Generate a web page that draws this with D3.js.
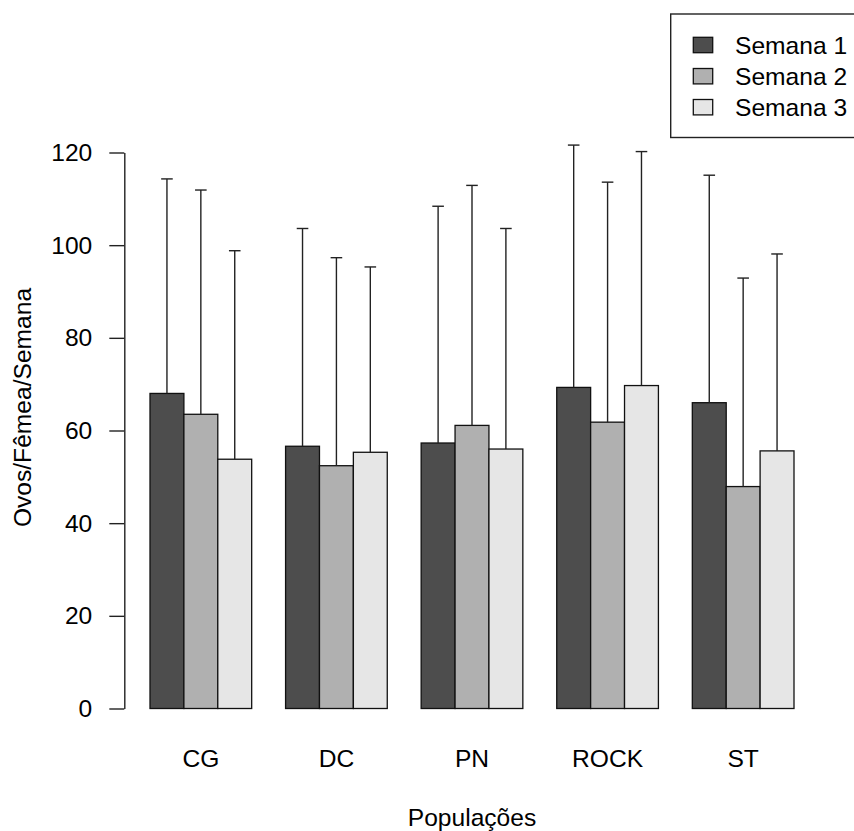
<!DOCTYPE html>
<html>
<head>
<meta charset="utf-8">
<script src="https://cdn.jsdelivr.net/npm/d3@7"></script>
<style>
  html, body { margin: 0; padding: 0; background: #fff; }
  svg { display: block; font-family: "Liberation Sans", Arial, sans-serif; }
</style>
</head>
<body>
<svg id="chart" width="854" height="831"></svg>
<script>
// Populations on the x axis, one bar per week
const categories = ["CG", "DC", "PN", "ROCK", "ST"];
const seriesNames = ["Semana 1", "Semana 2", "Semana 3"];

// Mean eggs per female per week
const semana1 = [68.0, 56.6, 57.3, 69.3, 66.0];
const semana2 = [63.5, 52.4, 61.1, 61.8, 47.9];
const semana3 = [53.8, 55.3, 56.0, 69.7, 55.6];

// Standard deviations (upper error bars)
const sd1 = [46.3, 47.0, 51.1, 52.3, 49.1];
const sd2 = [48.4, 44.9, 51.8, 51.8, 45.0];
const sd3 = [45.0, 40.0, 47.6, 50.5, 42.5];

const yTicks = [0, 20, 40, 60, 80, 100, 120];
const barColors = ["#4d4d4d", "#b0b0b0", "#e6e6e6"];

const means = [semana1, semana2, semana3];
const sds = [sd1, sd2, sd3];

const svg = d3.select("#chart");
const fontSize = 24.6;

const y = d3.scaleLinear().domain([0, 120]).range([708.5, 152.5]);

// groups of three bars, one bar-width of space before each group
const xGroup = d3.scaleBand()
  .domain(categories)
  .range([150, 794])
  .paddingInner(0.25)
  .paddingOuter(0)
  .align(1);

const xBar = d3.scaleBand()
  .domain(d3.range(seriesNames.length))
  .range([0, xGroup.bandwidth()]);

const rows = [];
categories.forEach((c, i) => {
  seriesNames.forEach((s, j) => {
    rows.push({ cat: c, series: j, mean: means[j][i], sd: sds[j][i] });
  });
});

// bars
svg.append("g")
  .selectAll("rect")
  .data(rows)
  .join("rect")
  .attr("x", d => xGroup(d.cat) + xBar(d.series))
  .attr("y", d => y(d.mean))
  .attr("width", xBar.bandwidth())
  .attr("height", d => y(0) - y(d.mean))
  .attr("fill", d => barColors[d.series])
  .attr("stroke", "#111")
  .attr("stroke-width", 1.3);

// upper error bars
const errG = svg.append("g").attr("stroke", "#222").attr("stroke-width", 1.4).attr("fill", "none");
rows.forEach(d => {
  const cx = xGroup(d.cat) + xBar(d.series) + xBar.bandwidth() / 2;
  errG.append("line")
    .attr("x1", cx).attr("x2", cx)
    .attr("y1", y(d.mean)).attr("y2", y(d.mean + d.sd));
  errG.append("line")
    .attr("x1", cx - 5.8).attr("x2", cx + 5.8)
    .attr("y1", y(d.mean + d.sd)).attr("y2", y(d.mean + d.sd));
});

// y axis
const yAxis = d3.axisLeft(y)
  .tickValues(yTicks)
  .tickSize(15)
  .tickPadding(17)
  .tickSizeOuter(0);

const gy = svg.append("g")
  .attr("transform", "translate(124.3,0)")
  .call(yAxis);
gy.select(".domain").attr("stroke", "#222").attr("stroke-width", 1.4);
gy.selectAll(".tick line").attr("stroke", "#222").attr("stroke-width", 1.4);
gy.selectAll(".tick text")
  .attr("font-size", fontSize)
  .attr("font-family", "Liberation Sans, Arial, sans-serif")
  .attr("fill", "#000");

// category labels
svg.append("g")
  .selectAll("text")
  .data(categories)
  .join("text")
  .attr("x", d => xGroup(d) + xGroup.bandwidth() / 2)
  .attr("y", 767)
  .attr("text-anchor", "middle")
  .attr("font-size", fontSize)
  .attr("fill", "#000")
  .text(d => d);

// axis titles
svg.append("text")
  .attr("x", 472)
  .attr("y", 826)
  .attr("text-anchor", "middle")
  .attr("font-size", fontSize)
  .attr("fill", "#000")
  .text("Populações");

svg.append("text")
  .attr("transform", "translate(31,407.5) rotate(-90)")
  .attr("text-anchor", "middle")
  .attr("font-size", fontSize)
  .attr("fill", "#000")
  .text("Ovos/Fêmea/Semana");

// legend
const legend = svg.append("g");
legend.append("rect")
  .attr("x", 670.7).attr("y", 14)
  .attr("width", 200).attr("height", 123.5)
  .attr("fill", "#fff")
  .attr("stroke", "#222")
  .attr("stroke-width", 1.4);

const legendRows = [45, 76.2, 107.2];
seriesNames.forEach((s, j) => {
  legend.append("rect")
    .attr("x", 693.3).attr("y", legendRows[j] - 7.7)
    .attr("width", 19.4).attr("height", 15.4)
    .attr("fill", barColors[j])
    .attr("stroke", "#111")
    .attr("stroke-width", 1.3);
  legend.append("text")
    .attr("x", 735)
    .attr("y", legendRows[j])
    .attr("dy", "0.35em")
    .attr("font-size", fontSize)
    .attr("fill", "#000")
    .text(s);
});
</script>
</body>
</html>
